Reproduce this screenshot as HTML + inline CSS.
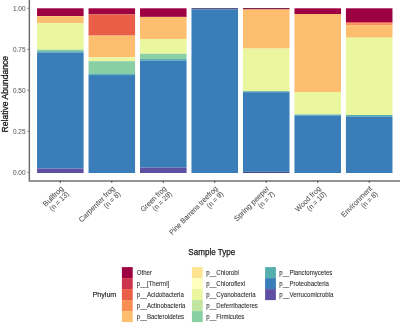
<!DOCTYPE html>
<html><head><meta charset="utf-8"><style>
html,body{margin:0;padding:0;background:#fff;width:400px;height:326px;overflow:hidden}
svg{display:block;will-change:transform}
text{font-family:"Liberation Sans",sans-serif}
.tk{font-size:6.4px;fill:#5a5a5a;stroke:#5a5a5a;stroke-width:0.06px}
.xl{font-size:7.5px;fill:#555;stroke:#555;stroke-width:0.08px}
.lg{font-size:6.9px;fill:#2a2a2a;stroke:#2a2a2a;stroke-width:0.08px}
.tt{font-size:8.3px;fill:#1a1a1a;stroke:#1a1a1a;stroke-width:0.3px}
.tt2{font-size:8.9px;fill:#1a1a1a;stroke:#1a1a1a;stroke-width:0.25px}
.lt{font-size:8.0px;fill:#1a1a1a;stroke:#1a1a1a;stroke-width:0.15px}
</style></head><body>
<svg width="400" height="326" viewBox="0 0 400 326">
<rect x="37.05" y="8.3" width="46.55" height="7.80" fill="#9E0142"/>
<rect x="37.05" y="16.1" width="46.55" height="7.20" fill="#FDBF6F"/>
<rect x="37.05" y="23.3" width="46.55" height="26.40" fill="#EAF79E"/>
<rect x="37.05" y="49.7" width="46.55" height="1.50" fill="#88D0A4"/>
<rect x="37.05" y="51.2" width="46.55" height="1.40" fill="#55AFAD"/>
<rect x="37.05" y="52.6" width="46.55" height="116.00" fill="#397EB8"/>
<rect x="37.05" y="168.6" width="46.55" height="4.40" fill="#5E4FA2"/>
<rect x="88.53" y="8.3" width="46.55" height="6.10" fill="#9E0142"/>
<rect x="88.53" y="14.4" width="46.55" height="21.20" fill="#EA5D47"/>
<rect x="88.53" y="35.6" width="46.55" height="21.70" fill="#FDBF6F"/>
<rect x="88.53" y="57.3" width="46.55" height="3.90" fill="#EAF79E"/>
<rect x="88.53" y="61.2" width="46.55" height="12.30" fill="#88D0A4"/>
<rect x="88.53" y="73.5" width="46.55" height="1.60" fill="#55AFAD"/>
<rect x="88.53" y="75.1" width="46.55" height="97.90" fill="#397EB8"/>
<rect x="140.01" y="8.3" width="46.55" height="8.60" fill="#9E0142"/>
<rect x="140.01" y="16.9" width="46.55" height="22.20" fill="#FDBF6F"/>
<rect x="140.01" y="39.1" width="46.55" height="14.70" fill="#EAF79E"/>
<rect x="140.01" y="53.8" width="46.55" height="5.00" fill="#88D0A4"/>
<rect x="140.01" y="58.8" width="46.55" height="1.80" fill="#55AFAD"/>
<rect x="140.01" y="60.6" width="46.55" height="107.00" fill="#397EB8"/>
<rect x="140.01" y="167.6" width="46.55" height="5.40" fill="#5E4FA2"/>
<rect x="191.49" y="8.2" width="46.55" height="1.10" fill="#3A2E66"/>
<rect x="191.49" y="9.3" width="46.55" height="163.70" fill="#397EB8"/>
<rect x="242.97" y="8.1" width="46.55" height="1.40" fill="#7A0A35"/>
<rect x="242.97" y="9.5" width="46.55" height="39.10" fill="#FDBF6F"/>
<rect x="242.97" y="48.6" width="46.55" height="42.60" fill="#EAF79E"/>
<rect x="242.97" y="91.2" width="46.55" height="1.00" fill="#55AFAD"/>
<rect x="242.97" y="92.2" width="46.55" height="79.60" fill="#397EB8"/>
<rect x="242.97" y="171.8" width="46.55" height="1.20" fill="#3B4E92"/>
<rect x="294.45" y="8.3" width="46.55" height="5.70" fill="#9E0142"/>
<rect x="294.45" y="14.0" width="46.55" height="78.00" fill="#FDBF6F"/>
<rect x="294.45" y="92.0" width="46.55" height="22.50" fill="#EAF79E"/>
<rect x="294.45" y="114.5" width="46.55" height="1.00" fill="#55AFAD"/>
<rect x="294.45" y="115.5" width="46.55" height="57.50" fill="#397EB8"/>
<rect x="345.93" y="8.3" width="46.55" height="13.70" fill="#9E0142"/>
<rect x="345.93" y="22.0" width="46.55" height="1.60" fill="#EA5D47"/>
<rect x="345.93" y="23.6" width="46.55" height="1.90" fill="#F88E52"/>
<rect x="345.93" y="25.5" width="46.55" height="12.20" fill="#FDBF6F"/>
<rect x="345.93" y="37.7" width="46.55" height="77.30" fill="#EAF79E"/>
<rect x="345.93" y="115.0" width="46.55" height="1.60" fill="#55AFAD"/>
<rect x="345.93" y="116.6" width="46.55" height="56.40" fill="#397EB8"/>
<path d="M29.35 0 V180.6" fill="none" stroke="#707070" stroke-width="1.5"/><path d="M28.6 180.95 H400" fill="none" stroke="#707070" stroke-width="1.6"/>
<line x1="27.5" x2="29.4" y1="8.30" y2="8.30" stroke="#707070" stroke-width="1"/>
<text x="25.5" y="10.70" text-anchor="end" class="tk" textLength="12.6" lengthAdjust="spacingAndGlyphs">1.00</text>
<line x1="27.5" x2="29.4" y1="49.30" y2="49.30" stroke="#707070" stroke-width="1"/>
<text x="25.5" y="51.70" text-anchor="end" class="tk" textLength="12.6" lengthAdjust="spacingAndGlyphs">0.75</text>
<line x1="27.5" x2="29.4" y1="90.30" y2="90.30" stroke="#707070" stroke-width="1"/>
<text x="25.5" y="92.70" text-anchor="end" class="tk" textLength="12.6" lengthAdjust="spacingAndGlyphs">0.50</text>
<line x1="27.5" x2="29.4" y1="131.30" y2="131.30" stroke="#707070" stroke-width="1"/>
<text x="25.5" y="133.70" text-anchor="end" class="tk" textLength="12.6" lengthAdjust="spacingAndGlyphs">0.25</text>
<line x1="27.5" x2="29.4" y1="172.30" y2="172.30" stroke="#707070" stroke-width="1"/>
<text x="25.5" y="174.70" text-anchor="end" class="tk" textLength="12.6" lengthAdjust="spacingAndGlyphs">0.00</text>
<line x1="60.32" x2="60.32" y1="180.8" y2="182.8" stroke="#444" stroke-width="1"/>
<line x1="111.81" x2="111.81" y1="180.8" y2="182.8" stroke="#444" stroke-width="1"/>
<line x1="163.28" x2="163.28" y1="180.8" y2="182.8" stroke="#444" stroke-width="1"/>
<line x1="214.77" x2="214.77" y1="180.8" y2="182.8" stroke="#444" stroke-width="1"/>
<line x1="266.24" x2="266.24" y1="180.8" y2="182.8" stroke="#444" stroke-width="1"/>
<line x1="317.72" x2="317.72" y1="180.8" y2="182.8" stroke="#444" stroke-width="1"/>
<line x1="369.20" x2="369.20" y1="180.8" y2="182.8" stroke="#444" stroke-width="1"/>
<g transform="translate(63.87,189.00) rotate(-45)"><text class="xl" text-anchor="end" x="0" y="0" textLength="25.5" lengthAdjust="spacingAndGlyphs">Bullfrog</text><text class="xl" text-anchor="end" x="0" y="7.7" textLength="23.97" lengthAdjust="spacingAndGlyphs">(n = 13)</text></g>
<g transform="translate(115.36,189.00) rotate(-45)"><text class="xl" text-anchor="end" x="0" y="0" textLength="47.6" lengthAdjust="spacingAndGlyphs">Carpenter frog</text><text class="xl" text-anchor="end" x="0" y="7.7" textLength="20.13" lengthAdjust="spacingAndGlyphs">(n = 8)</text></g>
<g transform="translate(166.84,189.00) rotate(-45)"><text class="xl" text-anchor="end" x="0" y="0" textLength="33.0" lengthAdjust="spacingAndGlyphs">Green frog</text><text class="xl" text-anchor="end" x="0" y="7.7" textLength="23.97" lengthAdjust="spacingAndGlyphs">(n = 29)</text></g>
<g transform="translate(218.32,189.00) rotate(-45)"><text class="xl" text-anchor="end" x="0" y="0" textLength="65.3" lengthAdjust="spacingAndGlyphs">Pine Barrens treefrog</text><text class="xl" text-anchor="end" x="0" y="7.7" textLength="20.13" lengthAdjust="spacingAndGlyphs">(n = 9)</text></g>
<g transform="translate(269.79,189.00) rotate(-45)"><text class="xl" text-anchor="end" x="0" y="0" textLength="46.4" lengthAdjust="spacingAndGlyphs">Spring peeper</text><text class="xl" text-anchor="end" x="0" y="7.7" textLength="20.13" lengthAdjust="spacingAndGlyphs">(n = 7)</text></g>
<g transform="translate(321.27,189.00) rotate(-45)"><text class="xl" text-anchor="end" x="0" y="0" textLength="32.9" lengthAdjust="spacingAndGlyphs">Wood frog</text><text class="xl" text-anchor="end" x="0" y="7.7" textLength="23.97" lengthAdjust="spacingAndGlyphs">(n = 10)</text></g>
<g transform="translate(372.75,189.00) rotate(-45)"><text class="xl" text-anchor="end" x="0" y="0" textLength="40.6" lengthAdjust="spacingAndGlyphs">Environment</text><text class="xl" text-anchor="end" x="0" y="7.7" textLength="20.13" lengthAdjust="spacingAndGlyphs">(n = 8)</text></g>
<text class="tt" transform="translate(7.7,94.2) rotate(-90)" text-anchor="middle" textLength="76.6" lengthAdjust="spacingAndGlyphs">Relative Abundance</text>
<text class="tt2" x="211.8" y="254.75" text-anchor="middle" textLength="46.9" lengthAdjust="spacingAndGlyphs">Sample Type</text>
<text class="lt" x="92.6" y="297.4" textLength="23.7" lengthAdjust="spacingAndGlyphs">Phylum</text>
<rect x="121.9" y="267.1" width="10.8" height="11" fill="#9E0142"/>
<text class="lg" x="136.8" y="275.30" textLength="15.20" lengthAdjust="spacingAndGlyphs">Other</text>
<rect x="121.9" y="278.1" width="10.8" height="11" fill="#CC344D"/>
<text class="lg" x="136.8" y="286.30" textLength="32.43" lengthAdjust="spacingAndGlyphs">p__[Thermi]</text>
<rect x="121.9" y="289.1" width="10.8" height="11" fill="#EA5D47"/>
<text class="lg" x="136.8" y="297.30" textLength="46.98" lengthAdjust="spacingAndGlyphs">p__Acidobacteria</text>
<rect x="121.9" y="300.1" width="10.8" height="11" fill="#F88E52"/>
<text class="lg" x="136.8" y="308.30" textLength="48.66" lengthAdjust="spacingAndGlyphs">p__Actinobacteria</text>
<rect x="121.9" y="311.1" width="10.8" height="11" fill="#FDBF6F"/>
<text class="lg" x="136.8" y="319.30" textLength="47.31" lengthAdjust="spacingAndGlyphs">p__Bacteroidetes</text>
<rect x="191.9" y="267.1" width="10.8" height="11" fill="#FEE594"/>
<text class="lg" x="206.2" y="275.30" textLength="32.78" lengthAdjust="spacingAndGlyphs">p__Chlorobi</text>
<rect x="191.9" y="278.1" width="10.8" height="11" fill="#FFFFBF"/>
<text class="lg" x="206.2" y="286.30" textLength="38.86" lengthAdjust="spacingAndGlyphs">p__Chloroflexi</text>
<rect x="191.9" y="289.1" width="10.8" height="11" fill="#EAF79E"/>
<text class="lg" x="206.2" y="297.30" textLength="49.34" lengthAdjust="spacingAndGlyphs">p__Cyanobacteria</text>
<rect x="191.9" y="300.1" width="10.8" height="11" fill="#BFE5A0"/>
<text class="lg" x="206.2" y="308.30" textLength="51.70" lengthAdjust="spacingAndGlyphs">p__Deferribacteres</text>
<rect x="191.9" y="311.1" width="10.8" height="11" fill="#88D0A4"/>
<text class="lg" x="206.2" y="319.30" textLength="38.17" lengthAdjust="spacingAndGlyphs">p__Firmicutes</text>
<rect x="265.1" y="267.1" width="10.8" height="11" fill="#55AFAD"/>
<text class="lg" x="279.3" y="275.30" textLength="53.05" lengthAdjust="spacingAndGlyphs">p__Planctomycetes</text>
<rect x="265.1" y="278.1" width="10.8" height="11" fill="#397EB8"/>
<text class="lg" x="279.3" y="286.30" textLength="49.68" lengthAdjust="spacingAndGlyphs">p__Proteobacteria</text>
<rect x="265.1" y="289.1" width="10.8" height="11" fill="#5E4FA2"/>
<text class="lg" x="279.3" y="297.30" textLength="54.06" lengthAdjust="spacingAndGlyphs">p__Verrucomicrobia</text>
</svg>
</body></html>
